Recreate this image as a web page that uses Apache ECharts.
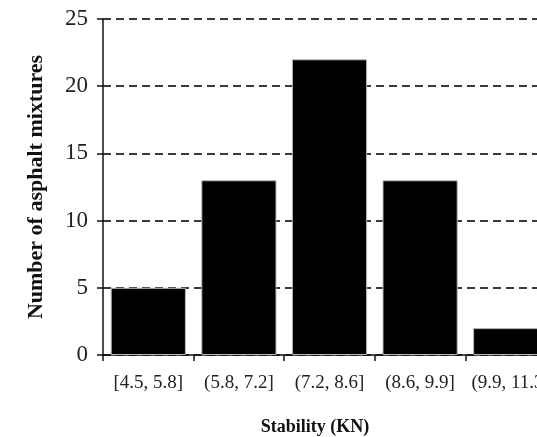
<!DOCTYPE html>
<html>
<head>
<meta charset="utf-8">
<script src="https://cdn.jsdelivr.net/npm/echarts@6/dist/echarts.min.js"></script>
<style>
  html, body { margin: 0; padding: 0; background: #fff; }
  #chart { width: 537px; height: 437px; }
</style>
</head>
<body>
<div id="chart"></div>
<script>
// Stability classes (KN) and how many asphalt mixtures fall in each
const stabilityClasses = ['[4.5, 5.8]', '(5.8, 7.2]', '(7.2, 8.6]', '(8.6, 9.9]', '(9.9, 11.3]'];
const mixtureCounts = [5, 13, 22, 13, 2];
const countTicks = { min: 0, max: 25, interval: 5 };

const serif = "'Liberation Serif', 'Times New Roman', serif";

const chart = echarts.init(document.getElementById('chart'), null, { renderer: 'canvas' });

chart.setOption({
  animation: false,
  backgroundColor: '#ffffff',
  // plot area runs past the right edge of the canvas, so the last class is clipped
  grid: {
    left: 103, top: 19, width: 453, height: 336,
    containLabel: false,
    outerBoundsMode: 'none'
  },
  xAxis: {
    type: 'category',
    data: stabilityClasses,
    boundaryGap: true,
    name: 'Stability (KN)',
    nameLocation: 'middle',
    nameGap: 63,
    nameTextStyle: {
      fontFamily: serif, fontSize: 18, fontWeight: 'bold', color: '#111',
      padding: [0, 29, 0, 0]
    },
    axisLine: { show: true, lineStyle: { color: '#111', width: 1.5 } },
    axisTick: { show: true, length: 6, lineStyle: { color: '#111', width: 1.5 } },
    axisLabel: { fontFamily: serif, fontSize: 19, color: '#222', margin: 19, interval: 0, hideOverlap: false },
    splitLine: { show: false }
  },
  yAxis: {
    type: 'value',
    min: countTicks.min,
    max: countTicks.max,
    interval: countTicks.interval,
    name: 'Number of asphalt mixtures',
    nameLocation: 'middle',
    nameGap: 56,
    nameTextStyle: { fontFamily: serif, fontSize: 22, fontWeight: 'bold', color: '#111' },
    axisLine: { show: true, lineStyle: { color: '#111', width: 1.5 } },
    axisTick: { show: true, length: 6, lineStyle: { color: '#111', width: 1.5 } },
    axisLabel: { fontFamily: serif, fontSize: 23, color: '#222', margin: 15 },
    splitLine: {
      show: true,
      lineStyle: { color: '#3a3a3a', width: 2, type: [8, 5] }
    }
  },
  series: [{
    type: 'bar',
    data: mixtureCounts,
    barCategoryGap: '17%',
    itemStyle: { color: '#000000', borderColor: '#b8b8b8', borderWidth: 1 }
  }]
});
</script>
</body>
</html>
